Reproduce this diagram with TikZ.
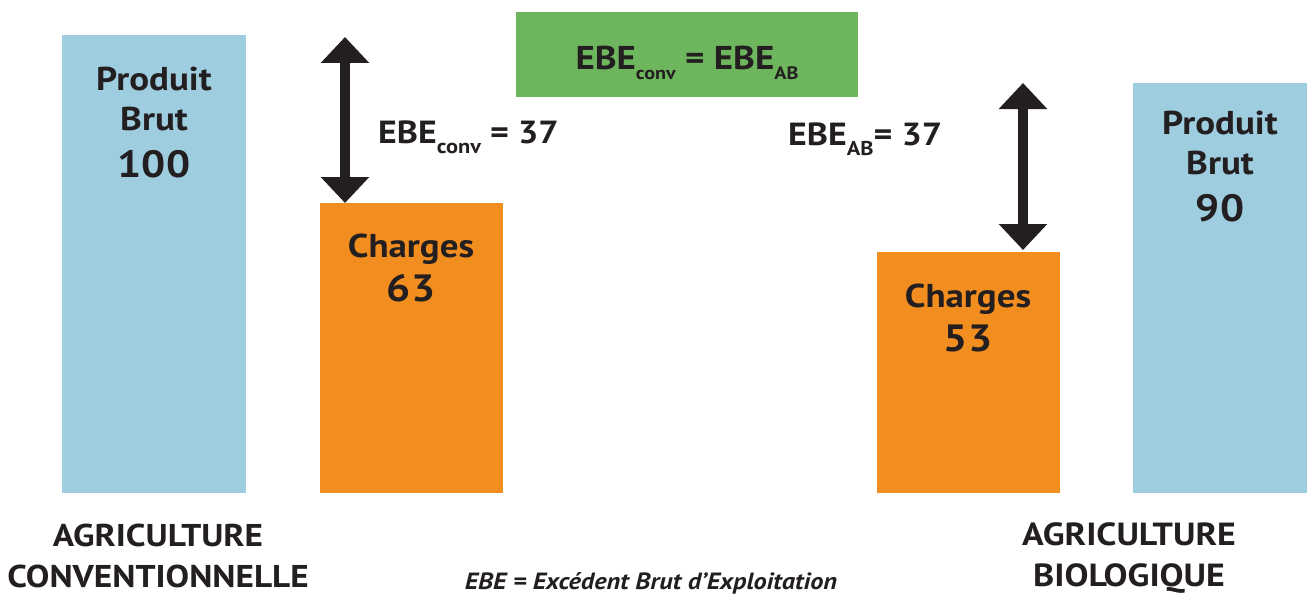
\documentclass[tikz,border=0pt]{standalone}
\usepackage{fontspec}
\setmainfont{PT Sans}[FakeStretch=1.12]
\usetikzlibrary{arrows.meta}
\definecolor{pbblue}{RGB}{159,205,224}
\definecolor{chorange}{RGB}{242,142,31}
\definecolor{ebegreen}{RGB}{110,182,94}
\definecolor{ink}{RGB}{35,31,32}
\newcommand\subtxt[2]{\raisebox{-10pt}{\fontsize{#1}{#1}\selectfont #2}}
\begin{document}
\begin{tikzpicture}[x=1pt,y=-1pt,
  bar/.style={inner sep=0pt, outer sep=0pt, anchor=north west},
  lbl/.style={text=ink, align=center, inner sep=0pt},
  big/.style={lbl, font=\bfseries\fontsize{33}{40}\selectfont},
  mid/.style={lbl, font=\bfseries\fontsize{32}{40}\selectfont},
  bigarrow/.style={draw=ink, line width=10pt,
    {Triangle[width=47pt,length=26pt]}-{Triangle[width=47pt,length=26pt]}}]
\useasboundingbox (0,0) rectangle (1307,594);
% bars
\node[bar, fill=pbblue, minimum width=184pt, minimum height=458pt] (pbc) at (62,35) {};
\node[bar, fill=chorange, minimum width=183pt, minimum height=290pt] (chc) at (320,203) {};
\node[bar, fill=chorange, minimum width=183pt, minimum height=241pt] (cha) at (877,252) {};
\node[bar, fill=pbblue, minimum width=174pt, minimum height=410pt] (pba) at (1133,83) {};
\node[bar, fill=ebegreen, minimum width=342pt, minimum height=85pt] (eq) at (516,12) {};
% arrows
\coordinate (ac1) at (345,37);
\coordinate (ac2) at (345,203);
\coordinate (aa1) at (1023,83);
\coordinate (aa2) at (1023,250);
\draw[bigarrow] (ac1) -- (ac2);
\draw[bigarrow] (aa1) -- (aa2);
% bar texts
\node[big, anchor=north] (pbct) at (154,67)
  {Produit\\ Brut\\[7pt] \fontsize{38}{44}\selectfont 100};
\node[big, anchor=north] (pbat) at (1220,111)
  {Produit\\ Brut\\[7pt] \fontsize{38}{44}\selectfont 90};
\node[big, anchor=north] (chct) at (411,234)
  {Charges\\[4pt] \fontsize{38}{44}\selectfont 63};
\node[big, anchor=north] (chat) at (968,284)
  {Charges\\[4pt] \fontsize{38}{44}\selectfont 53};
% EBE labels
\node[mid, anchor=base west] (ebec) at (378,143)
  {EBE\subtxt{20}{conv} = 37};
\node[mid, anchor=base west] (ebea) at (788,145)
  {EBE\subtxt{20}{AB}= 37};
\node[big, anchor=base] (eqt) at (eq.center |- 0,70)
  {EBE\subtxt{18}{conv} = EBE\subtxt{18}{AB}};
% bottom labels
\node[lbl, font=\bfseries\fontsize{31.5}{41}\selectfont, anchor=north] (agc) at (158,524)
  {AGRICULTURE\\ CONVENTIONNELLE};
\node[lbl, font=\bfseries\fontsize{32}{41}\selectfont, anchor=north] (aga) at (1129,522)
  {AGRICULTURE\\ BIOLOGIQUE};
\node[lbl, font=\bfseries\itshape\fontsize{23.5}{26}\selectfont, anchor=base] (note) at (651,589)
  {EBE = Excédent Brut d’Exploitation};
\end{tikzpicture}
\end{document}
